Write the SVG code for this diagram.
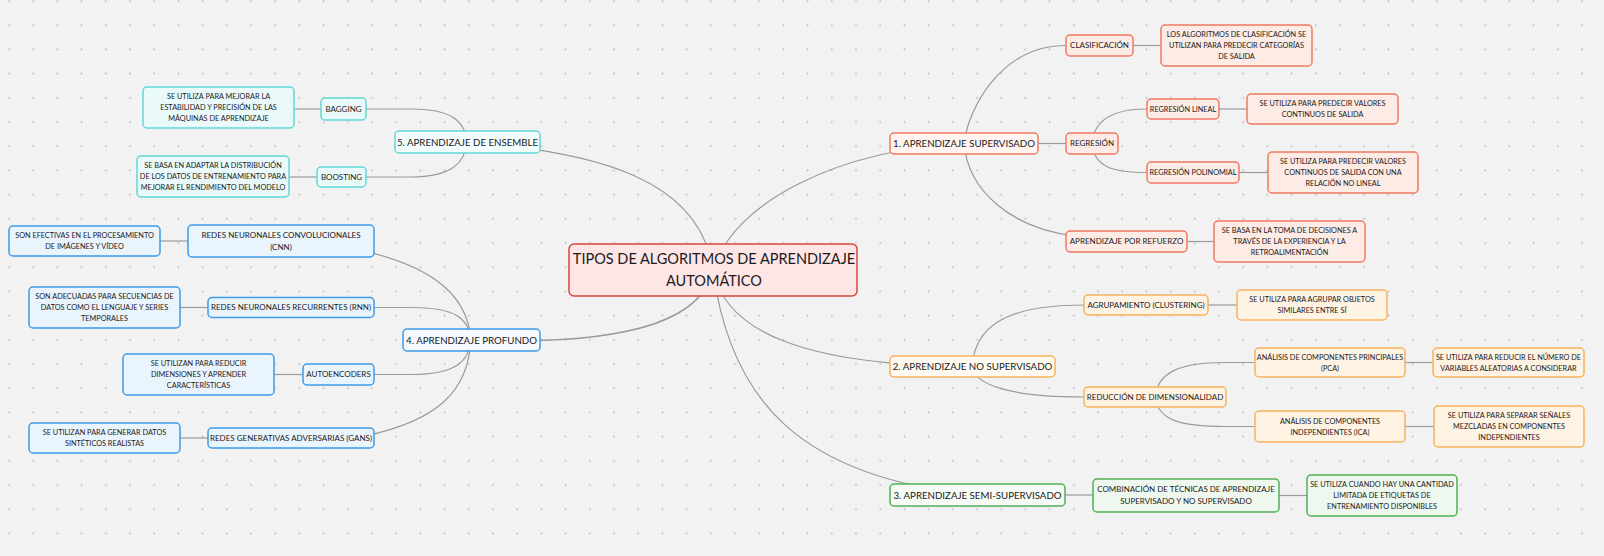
<svg xmlns="http://www.w3.org/2000/svg" width="1604" height="556" viewBox="0 0 1604 556">
<defs>
<pattern id="dots" x="-3.1" y="-11.1" width="24.2" height="24.2" patternUnits="userSpaceOnUse"><circle cx="12.1" cy="12.1" r="0.9" fill="#b5b5b5"/></pattern>
<style>
text{font-family:Lato,"Noto Sans","Liberation Sans",sans-serif;fill:#1a1a1a;text-anchor:middle}
.t0{font-size:14.5px}
.t1{font-size:9.7px}
.t2{font-size:8px}
.t3{font-size:7.3px}
rect{stroke-width:1.5}
.root{fill:#ffe6e6;stroke:#d4493e}
.r1{fill:#fff4f1;stroke:#ef7a62}
.r2{fill:#fdebe5;stroke:#ef7a62}
.o1{fill:#fffaf2;stroke:#f6b25e}
.o2{fill:#fff3e4;stroke:#f6b25e}
.g1{fill:#f6fcf5;stroke:#52b055}
.g2{fill:#eff8ee;stroke:#52b055}
.b1{fill:#f3f9fe;stroke:#3d9be9}
.b2{fill:#eaf4fd;stroke:#3d9be9}
.c1{fill:#f3fdfd;stroke:#62d8d8}
.c2{fill:#eafafa;stroke:#62d8d8}
#connectors path{fill:none;stroke:#9a9a9a;stroke-width:1.2}
</style>
</defs>
<rect width="1604" height="556" fill="#f2f2f2" stroke="none"/>
<rect width="1604" height="556" fill="url(#dots)" stroke="none"/>

<g id="connectors">
<path d="M467,142 C600,152 700,180 713,270"/>
<path d="M964,143.5 C840,150 735,200 713,270"/>
<path d="M471,340 C600,345 700,330 713,270"/>
<path d="M713,270 C725,330 800,366 972,366.5"/>
<path d="M713,270 C730,400 800,478 977,495"/>
<path d="M467,142 C465,120 450,109 411,109 L343,109"/>
<path d="M467,142 C465,164 450,177 411,177 L341,177"/>
<path d="M321,109 H294"/>
<path d="M317,177 H289"/>
<path d="M471,340 C468,300 440,268 360,250"/>
<path d="M471,340 C469,318 455,307.5 411,307.5 L374,307.5"/>
<path d="M471,340 C469,362 455,374.5 411,374.5 L374,374.5"/>
<path d="M471,340 C468,390 440,420 365,436"/>
<path d="M188,241 H160"/>
<path d="M208,307.5 H180"/>
<path d="M303,374.5 H274"/>
<path d="M208,438 H180"/>
<path d="M964,143.5 C968,110 1000,45.5 1066,45.5"/>
<path d="M964,143.5 C968,190 1010,228 1075,236"/>
<path d="M1038,143.5 H1066"/>
<path d="M1092,143.5 C1094,119 1115,109 1147,109"/>
<path d="M1092,143.5 C1094,168 1115,172.5 1147,172.5"/>
<path d="M1133,45.5 H1161"/>
<path d="M1219,109 H1247"/>
<path d="M1239,172.5 H1268"/>
<path d="M1187,241.5 H1214"/>
<path d="M972,366.5 C975,330 1000,305 1084,305"/>
<path d="M972,366.5 C975,385 1010,397 1084,397"/>
<path d="M1155,397 C1158,372 1180,362.5 1225,362.5 L1255,362.5"/>
<path d="M1155,397 C1158,420 1180,426.5 1225,426.5 L1255,426.5"/>
<path d="M1208,305 H1237"/>
<path d="M1405,362.5 H1433"/>
<path d="M1405,426.5 H1434"/>
<path d="M1065,495 H1093"/>
<path d="M1279,495.5 H1307"/>
</g>

<g id="root"><rect class="root" x="569" y="244" width="288" height="52" rx="5"/>
<text class="t0" x="714" y="264">TIPOS DE ALGORITMOS DE APRENDIZAJE</text>
<text class="t0" x="714" y="286">AUTOMÁTICO</text></g>

<g id="n1"><rect class="r1" x="890" y="133" width="148" height="21" rx="4"/><text class="t1" x="964" y="147">1. APRENDIZAJE SUPERVISADO</text></g>
<g id="n1a"><rect class="r2" x="1066" y="35" width="67" height="21" rx="4"/><text class="t2" x="1099.5" y="48.4">CLASIFICACIÓN</text></g>
<g id="n1a-d"><rect class="r2" x="1161" y="25" width="151" height="41" rx="4"/>
<text class="t3" x="1236.5" y="37.3">LOS ALGORITMOS DE CLASIFICACIÓN SE</text>
<text class="t3" x="1236.5" y="48.1">UTILIZAN PARA PREDECIR CATEGORÍAS</text>
<text class="t3" x="1236.5" y="58.9">DE SALIDA</text></g>
<g id="n1b"><rect class="r2" x="1066" y="133" width="52" height="21" rx="4"/><text class="t2" x="1092" y="146.4">REGRESIÓN</text></g>
<g id="n1b1"><rect class="r2" x="1147" y="99" width="72" height="20" rx="4"/><text class="t3" x="1183" y="111.6">REGRESIÓN LINEAL</text></g>
<g id="n1b1-d"><rect class="r2" x="1247" y="94" width="151" height="30" rx="4"/>
<text class="t3" x="1322.5" y="106.1">SE UTILIZA PARA PREDECIR VALORES</text>
<text class="t3" x="1322.5" y="117.1">CONTINUOS DE SALIDA</text></g>
<g id="n1b2"><rect class="r2" x="1147" y="162" width="92" height="21" rx="4"/><text class="t3" x="1193" y="175.1">REGRESIÓN POLINOMIAL</text></g>
<g id="n1b2-d"><rect class="r2" x="1268" y="152" width="150" height="41" rx="4"/>
<text class="t3" x="1343" y="164.3">SE UTILIZA PARA PREDECIR VALORES</text>
<text class="t3" x="1343" y="175.1">CONTINUOS DE SALIDA CON UNA</text>
<text class="t3" x="1343" y="185.9">RELACIÓN NO LINEAL</text></g>
<g id="n1c"><rect class="r2" x="1066" y="231" width="121" height="21" rx="4"/><text class="t2" x="1126.5" y="244.4">APRENDIZAJE POR REFUERZO</text></g>
<g id="n1c-d"><rect class="r2" x="1214" y="221" width="151" height="41" rx="4"/>
<text class="t3" x="1289.5" y="233.3">SE BASA EN LA TOMA DE DECISIONES A</text>
<text class="t3" x="1289.5" y="244.1">TRAVÉS DE LA EXPERIENCIA Y LA</text>
<text class="t3" x="1289.5" y="254.9">RETROALIMENTACIÓN</text></g>

<g id="n2"><rect class="o1" x="890" y="356" width="165" height="21" rx="4"/><text class="t1" x="972.5" y="370">2. APRENDIZAJE NO SUPERVISADO</text></g>
<g id="n2a"><rect class="o2" x="1084" y="295" width="124" height="20" rx="4"/><text class="t2" x="1146" y="307.9">AGRUPAMIENTO (CLUSTERING)</text></g>
<g id="n2a-d"><rect class="o2" x="1237" y="290" width="150" height="30" rx="4"/>
<text class="t3" x="1312" y="302.1">SE UTILIZA PARA AGRUPAR OBJETOS</text>
<text class="t3" x="1312" y="313.1">SIMILARES ENTRE SÍ</text></g>
<g id="n2b"><rect class="o2" x="1084" y="387" width="142" height="20" rx="4"/><text class="t2" x="1155" y="399.9">REDUCCIÓN DE DIMENSIONALIDAD</text></g>
<g id="n2b1"><rect class="o2" x="1255" y="348" width="150" height="29" rx="4"/>
<text class="t3" x="1330" y="359.6">ANÁLISIS DE COMPONENTES PRINCIPALES</text>
<text class="t3" x="1330" y="370.6">(PCA)</text></g>
<g id="n2b1-d"><rect class="o2" x="1433" y="348" width="151" height="29" rx="4"/>
<text class="t3" x="1508.5" y="359.6">SE UTILIZA PARA REDUCIR EL NÚMERO DE</text>
<text class="t3" x="1508.5" y="370.6">VARIABLES ALEATORIAS A CONSIDERAR</text></g>
<g id="n2b2"><rect class="o2" x="1255" y="411" width="150" height="31" rx="4"/>
<text class="t3" x="1330" y="423.6">ANÁLISIS DE COMPONENTES</text>
<text class="t3" x="1330" y="434.6">INDEPENDIENTES (ICA)</text></g>
<g id="n2b2-d"><rect class="o2" x="1434" y="406" width="150" height="41" rx="4"/>
<text class="t3" x="1509" y="418.3">SE UTILIZA PARA SEPARAR SEÑALES</text>
<text class="t3" x="1509" y="429.1">MEZCLADAS EN COMPONENTES</text>
<text class="t3" x="1509" y="439.9">INDEPENDIENTES</text></g>

<g id="n3"><rect class="g1" x="890" y="484" width="175" height="22" rx="4"/><text class="t1" x="977.5" y="498.5">3. APRENDIZAJE SEMI-SUPERVISADO</text></g>
<g id="n3a"><rect class="g2" x="1093" y="479" width="186" height="33" rx="4"/>
<text class="t2" x="1186" y="492.4">COMBINACIÓN DE TÉCNICAS DE APRENDIZAJE</text>
<text class="t2" x="1186" y="504.4">SUPERVISADO Y NO SUPERVISADO</text></g>
<g id="n3a-d"><rect class="g2" x="1307" y="475" width="150" height="41" rx="4"/>
<text class="t3" x="1382" y="487.3">SE UTILIZA CUANDO HAY UNA CANTIDAD</text>
<text class="t3" x="1382" y="498.1">LIMITADA DE ETIQUETAS DE</text>
<text class="t3" x="1382" y="508.9">ENTRENAMIENTO DISPONIBLES</text></g>

<g id="n4"><rect class="b1" x="403" y="329" width="137" height="22" rx="4"/><text class="t1" x="471.5" y="343.5">4. APRENDIZAJE PROFUNDO</text></g>
<g id="n4a"><rect class="b2" x="188" y="225" width="186" height="32" rx="4"/>
<text class="t2" x="281" y="237.9">REDES NEURONALES CONVOLUCIONALES</text>
<text class="t2" x="281" y="249.9">(CNN)</text></g>
<g id="n4a-d"><rect class="b2" x="9" y="226" width="151" height="30" rx="4"/>
<text class="t3" x="84.5" y="238.1">SON EFECTIVAS EN EL PROCESAMIENTO</text>
<text class="t3" x="84.5" y="249.1">DE IMÁGENES Y VÍDEO</text></g>
<g id="n4b"><rect class="b2" x="208" y="297.5" width="166" height="20" rx="4"/><text class="t2" x="291" y="310.4">REDES NEURONALES RECURRENTES (RNN)</text></g>
<g id="n4b-d"><rect class="b2" x="29" y="287" width="151" height="41" rx="4"/>
<text class="t3" x="104.5" y="299.3">SON ADECUADAS PARA SECUENCIAS DE</text>
<text class="t3" x="104.5" y="310.1">DATOS COMO EL LENGUAJE Y SERIES</text>
<text class="t3" x="104.5" y="320.9">TEMPORALES</text></g>
<g id="n4c"><rect class="b2" x="303" y="364" width="71" height="21" rx="4"/><text class="t2" x="338.5" y="377.4">AUTOENCODERS</text></g>
<g id="n4c-d"><rect class="b2" x="123" y="354" width="151" height="41" rx="4"/>
<text class="t3" x="198.5" y="366.3">SE UTILIZAN PARA REDUCIR</text>
<text class="t3" x="198.5" y="377.1">DIMENSIONES Y APRENDER</text>
<text class="t3" x="198.5" y="387.9">CARACTERÍSTICAS</text></g>
<g id="n4d"><rect class="b2" x="208" y="428" width="166" height="20" rx="4"/><text class="t2" x="291" y="440.9">REDES GENERATIVAS ADVERSARIAS (GANS)</text></g>
<g id="n4d-d"><rect class="b2" x="29" y="423" width="151" height="30" rx="4"/>
<text class="t3" x="104.5" y="435.1">SE UTILIZAN PARA GENERAR DATOS</text>
<text class="t3" x="104.5" y="446.1">SINTÉTICOS REALISTAS</text></g>

<g id="n5"><rect class="c1" x="395" y="131" width="145" height="22" rx="4"/><text class="t1" x="467.5" y="145.5">5. APRENDIZAJE DE ENSEMBLE</text></g>
<g id="n5a"><rect class="c2" x="321" y="98" width="45" height="22" rx="4"/><text class="t2" x="343.5" y="111.9">BAGGING</text></g>
<g id="n5a-d"><rect class="c2" x="143" y="87" width="151" height="41" rx="4"/>
<text class="t3" x="218.5" y="99.3">SE UTILIZA PARA MEJORAR LA</text>
<text class="t3" x="218.5" y="110.1">ESTABILIDAD Y PRECISIÓN DE LAS</text>
<text class="t3" x="218.5" y="120.9">MÁQUINAS DE APRENDIZAJE</text></g>
<g id="n5b"><rect class="c2" x="317" y="167" width="49" height="20" rx="4"/><text class="t2" x="341.5" y="179.9">BOOSTING</text></g>
<g id="n5b-d"><rect class="c2" x="137" y="156" width="152" height="41" rx="4"/>
<text class="t3" x="213" y="168.3">SE BASA EN ADAPTAR LA DISTRIBUCIÓN</text>
<text class="t3" x="213" y="179.1">DE LOS DATOS DE ENTRENAMIENTO PARA</text>
<text class="t3" x="213" y="189.9">MEJORAR EL RENDIMIENTO DEL MODELO</text></g>
</svg>
